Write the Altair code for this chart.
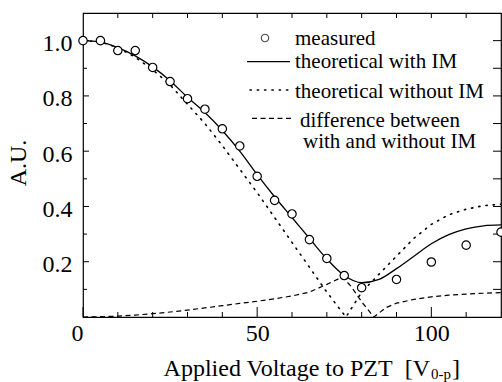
import altair as alt
import pandas as pd

# ---- data ----
meas_v = [0, 5, 10, 15, 20, 25, 30, 35, 40, 45, 50, 55, 60, 65, 70, 75, 80, 90, 100, 110, 120]
meas_a = [1.0, 1.0, 0.964, 0.964, 0.903, 0.852, 0.79, 0.752, 0.681, 0.619, 0.509, 0.422,
          0.373, 0.28, 0.212, 0.150, 0.106, 0.136, 0.199, 0.26, 0.307]

with_v = [0, 5, 10, 15, 20, 25, 30, 35, 40, 45, 50, 55, 60, 65, 70, 75, 80, 85, 90, 95,
          100, 105, 110, 115, 120]
with_a = [1.0, 0.995, 0.975, 0.945, 0.905, 0.855, 0.795, 0.74, 0.675, 0.60, 0.515, 0.435,
          0.36, 0.285, 0.21, 0.15, 0.124, 0.136, 0.175, 0.22, 0.265, 0.298, 0.319, 0.330, 0.333]

without_v = [0, 5, 10, 15, 20, 25, 30, 35, 40, 45, 50, 55, 60, 65, 70, 75, 75.5, 80, 85, 90,
             95, 100, 105, 110, 115, 120]
without_a = [1.0, 0.995, 0.975, 0.94, 0.895, 0.84, 0.77, 0.70, 0.62, 0.535, 0.45, 0.36,
             0.27, 0.18, 0.09, 0.008, 0.0, 0.09, 0.155, 0.22, 0.285, 0.335, 0.37, 0.39, 0.403, 0.408]

diff_v = [0, 5, 10, 15, 20, 25, 30, 35, 40, 45, 50, 55, 60, 65, 70, 74.5, 77, 80, 83.5, 87,
          90, 95, 100, 105, 110, 115, 120]
diff_a = [0.0, 0.001, 0.003, 0.007, 0.012, 0.018, 0.025, 0.033, 0.041, 0.049, 0.057, 0.066,
          0.076, 0.09, 0.118, 0.145, 0.11, 0.055, 0.0, 0.034, 0.05, 0.064, 0.073, 0.079, 0.083,
          0.086, 0.088]

x_major = [0, 50, 100]
x_minor = [10, 20, 30, 40, 60, 70, 80, 90, 110]
x_all = [10, 20, 30, 40, 50, 60, 70, 80, 90, 100, 110]
y_major = [0.2, 0.4, 0.6, 0.8, 1.0]
y_minor = [0.1, 0.3, 0.5, 0.7, 0.9]
y_all = [0.1, 0.2, 0.3, 0.4, 0.5, 0.6, 0.7, 0.8, 0.9, 1.0]

legend_labels = ["measured", "theoretical with IM", "theoretical without IM",
                 "difference between", "with and without IM"]
x_title = "Applied Voltage to PZT\u00a0 [V"
x_title_sub = "0-p"
y_title = "A.U."

FONT = "Liberation Serif"
W, H = 418, 304
DOT = [1.3, 6]

xs = alt.Scale(domain=[0, 120], nice=False, zero=False)
ys = alt.Scale(domain=[0, 1.1], nice=False, zero=False)

x_axis = alt.Axis(values=x_major, format="d", ticks=False, domain=False, grid=False, title=None,
                  labelFont=FONT, labelFontSize=24, labelColor="black", labelPadding=4,
                  labelAlign={"expr": "datum.value == 0 ? 'right' : 'center'"},
                  labelFlush=False)
y_axis = alt.Axis(values=y_major, format=".1f", ticks=False, domain=False, grid=False, title=None,
                  labelFont=FONT, labelFontSize=24, labelColor="black", labelPadding=11,
                  labelOffset=3, labelFlush=False)

X = lambda f: alt.X(f, type="quantitative", scale=xs, axis=x_axis)
Y = lambda f: alt.Y(f, type="quantitative", scale=ys, axis=y_axis)

df_m = pd.DataFrame({"v": meas_v, "a": meas_a})
df_w = pd.DataFrame({"v": with_v, "a": with_a})
df_wo = pd.DataFrame({"v": without_v, "a": without_a})
df_d = pd.DataFrame({"v": diff_v, "a": diff_a})

solid = alt.Chart(df_w).mark_line(color="black", strokeWidth=1.3, interpolate="monotone",
                                  clip=True).encode(x=X("v"), y=Y("a"))
dotted = alt.Chart(df_wo).mark_line(color="black", strokeWidth=1.6, strokeDash=DOT,
                                    strokeCap="round", clip=True).encode(x=X("v"), y=Y("a"))
dashed = alt.Chart(df_d).mark_line(color="black", strokeWidth=1.2, strokeDash=[5, 3.5],
                                   clip=True).encode(x=X("v"), y=Y("a"))
points = alt.Chart(df_m).mark_point(shape="circle", size=70, filled=False, fill="white",
                                    fillOpacity=1, stroke="black", strokeWidth=1.2,
                                    opacity=1).encode(x=X("v"), y=Y("a"))

# ticks (inward)
def xt(vals, y0, y1):
    return alt.Chart(pd.DataFrame({"v": vals})).mark_rule(color="black", strokeWidth=1).encode(
        x=X("v"), y=alt.value(y0), y2=alt.value(y1))

def yt(vals, x0, x1):
    return alt.Chart(pd.DataFrame({"a": vals})).mark_rule(color="black", strokeWidth=1).encode(
        y=Y("a"), x=alt.value(x0), x2=alt.value(x1))

ticks = [
    xt(x_major, H, H - 10), xt(x_minor, H, H - 5), xt(x_all, 0, 5),
    yt(y_major, 0, 6), yt(y_minor, 0, 4), yt(y_all, W, W - 8),
]

# legend
def seg(x0, x1, y, dash=None, width=1.3, cap="butt"):
    kw = {"color": "black", "strokeWidth": width, "strokeCap": cap}
    if dash:
        kw["strokeDash"] = dash
    return alt.Chart(pd.DataFrame({"k": [0]})).mark_rule(**kw).encode(
        x=alt.value(x0), x2=alt.value(x1), y=alt.value(y))

def txt(s, x, y, size=21, align="left", baseline="alphabetic", angle=None):
    kw = dict(text=s, font=FONT, fontSize=size, color="black", align=align, baseline=baseline)
    if angle is not None:
        kw["angle"] = angle
    return alt.Chart(pd.DataFrame({"k": [0]})).mark_text(**kw).encode(
        x=alt.value(x), y=alt.value(y))

leg_pt = alt.Chart(pd.DataFrame({"k": [0]})).mark_point(
    shape="circle", size=55, filled=False, stroke="black", strokeWidth=1.1).encode(
    x=alt.value(182), y=alt.value(25))

legend = [
    leg_pt,
    seg(164, 207, 48.7),
    seg(167, 207, 77, dash=DOT, width=1.6, cap="round"),
    seg(169, 209, 105.3, dash=[5, 3.5], width=1.2),
    txt(legend_labels[0], 212, 32),
    txt(legend_labels[1], 212, 55.3),
    txt(legend_labels[2], 212, 85.3),
    txt(legend_labels[3], 217, 113.7),
    txt(legend_labels[4], 220, 135.3),
]

titles = [
    txt(x_title, 347, 363, size=24, align="right"),
    txt(x_title_sub, 348, 366, size=15),
    txt("]", 369, 363, size=24),
    txt(y_title, -64, 150, size=24, align="center", baseline="middle", angle=270),
]

chart = alt.layer(solid, dotted, dashed, *ticks, points, *legend, *titles).properties(
    width=W, height=H,
    autosize=alt.AutoSizeParams(type="none"),
    padding={"left": 83, "top": 13, "right": 1, "bottom": 65},
    background="white",
).configure_view(stroke="black", strokeWidth=1.2
).configure_axis(labelFont=FONT, labelFontSize=24, labelColor="black"
).configure_text(font=FONT)

chart.save("out.html", embed_options={"renderer": "svg", "actions": False})
